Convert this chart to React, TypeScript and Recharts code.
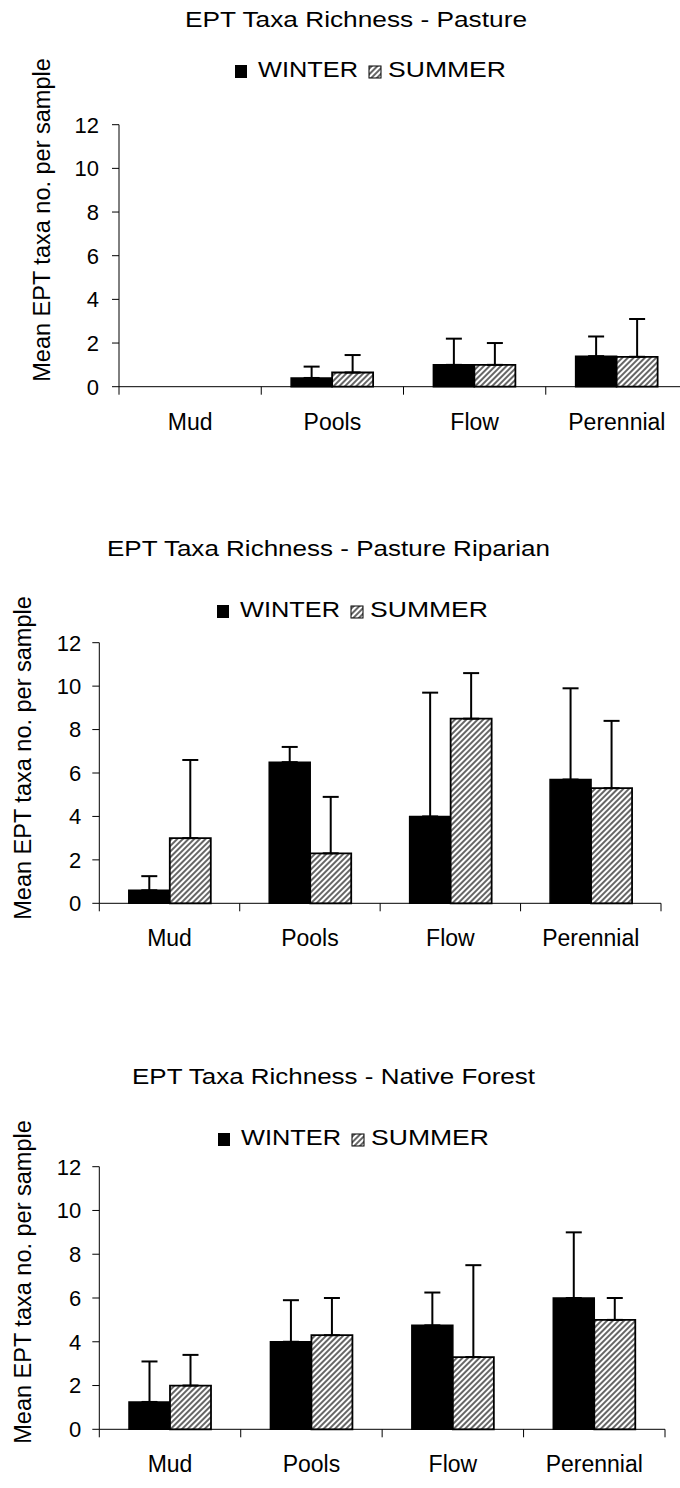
import React from "react";
import { BarChart, Bar, XAxis, YAxis, ErrorBar } from "recharts";

const categories = ["Mud", "Pools", "Flow", "Perennial"];
const yTicks = [0, 2, 4, 6, 8, 10, 12];
const yLabel = "Mean EPT taxa no. per sample";

// means and upper error (SD) per season
const pastureWinter = [0, 0.4, 1.0, 1.4];
const pastureWinterErr = [0, 0.52, 1.2, 0.9];
const pastureSummer = [0, 0.65, 1.0, 1.37];
const pastureSummerErr = [0, 0.8, 1.0, 1.73];

const riparianWinter = [0.6, 6.5, 4.0, 5.7];
const riparianWinterErr = [0.65, 0.7, 5.7, 4.2];
const riparianSummer = [3.0, 2.3, 8.5, 5.3];
const riparianSummerErr = [3.6, 2.6, 2.1, 3.1];

const forestWinter = [1.25, 4.0, 4.75, 6.0];
const forestWinterErr = [1.85, 1.9, 1.5, 3.0];
const forestSummer = [2.0, 4.3, 3.3, 5.0];
const forestSummerErr = [1.4, 1.7, 4.2, 1.0];

const FONT = '"Liberation Sans", Arial, Helvetica, sans-serif';

function rows(w: number[], we: number[], s: number[], se: number[]) {
  return categories.map((name, i) => ({
    name,
    winter: w[i],
    winterErr: [0, we[i]],
    summer: s[i],
    summerErr: [0, se[i]],
  }));
}

const panels = [
  {
    title: "EPT Taxa Richness - Pasture",
    data: rows(pastureWinter, pastureWinterErr, pastureSummer, pastureSummerErr),
    top: 0, height: 470,
    plotLeft: 119, plotRight: 688, plotTop: 124.7, plotBottom: 386.7,
    titleX: 356, titleY: 27, titleLen: 342,
    legendX: 235, legendY: 77,
    ylabX: 50, ylabY: 220, tickGap: 13,
  },
  {
    title: "EPT Taxa Richness - Pasture Riparian",
    data: rows(riparianWinter, riparianWinterErr, riparianSummer, riparianSummerErr),
    top: 500, height: 490,
    plotLeft: 99.3, plotRight: 661, plotTop: 642.7, plotBottom: 903.3,
    titleX: 328.5, titleY: 556, titleLen: 443,
    legendX: 217, legendY: 617,
    ylabX: 31, ylabY: 758, tickGap: 11,
  },
  {
    title: "EPT Taxa Richness - Native Forest",
    data: rows(forestWinter, forestWinterErr, forestSummer, forestSummerErr),
    top: 1010, height: 478,
    plotLeft: 99.3, plotRight: 665, plotTop: 1166.7, plotBottom: 1429.3,
    titleX: 333.5, titleY: 1084, titleLen: 403,
    legendX: 218, legendY: 1145,
    ylabX: 31, ylabY: 1282, tickGap: 11,
  },
];

type PanelCfg = (typeof panels)[number];

function Panel({ cfg }: { cfg: PanelCfg }) {
  const { top, height, plotLeft, plotRight, plotTop, plotBottom } = cfg;
  const width = Math.ceil(plotRight) + 20;
  const xAxisH = 50;
  const axisY = plotBottom - top;
  const band = (plotRight - plotLeft) / categories.length;

  const xTick = (p: any) => {
    const { x, index, payload } = p;
    const last = index === categories.length - 1;
    return (
      <g>
        <line x1={x - band / 2} x2={x - band / 2} y1={axisY} y2={axisY + 8} stroke="#000" />
        {last && <line x1={x + band / 2} x2={x + band / 2} y1={axisY} y2={axisY + 8} stroke="#000" />}
        <text x={x} y={axisY + 43} textAnchor="middle" fontSize={23} fill="#000" fontFamily={FONT}>
          {payload.value}
        </text>
      </g>
    );
  };

  return (
    <div style={{ position: "absolute", left: 0, top, width, height }}>
      <BarChart
        width={width}
        height={height}
        data={cfg.data}
        margin={{ top: plotTop - top, right: width - plotRight, left: 0, bottom: height - axisY - xAxisH }}
        barGap={0}
        barCategoryGap="21%"
      >
        <YAxis
          type="number"
          domain={[0, 12]}
          ticks={yTicks}
          width={plotLeft}
          axisLine={{ stroke: "#000" }}
          tickLine={{ stroke: "#000" }}
          tickSize={7}
          tickMargin={cfg.tickGap}
          tick={{ fontSize: 22, fill: "#000", fontFamily: FONT }}
        />
        <XAxis
          dataKey="name"
          height={xAxisH}
          interval={0}
          tickLine={false}
          axisLine={{ stroke: "#000" }}
          tick={xTick}
        />
        <Bar dataKey="winter" fill="#000" stroke="#000" strokeWidth={1.5} isAnimationActive={false}>
          <ErrorBar dataKey="winterErr" direction="y" width={8} stroke="#000" strokeWidth={2} />
        </Bar>
        <Bar dataKey="summer" fill="url(#hatch)" stroke="#000" strokeWidth={1.8} isAnimationActive={false}>
          <ErrorBar dataKey="summerErr" direction="y" width={8} stroke="#000" strokeWidth={2} />
        </Bar>
      </BarChart>
      <svg
        width={680}
        height={height}
        style={{ position: "absolute", left: 0, top: 0, pointerEvents: "none" }}
        fontFamily={FONT}
      >
        <text
          x={cfg.titleX}
          y={cfg.titleY - top}
          textAnchor="middle"
          fontSize={22}
          textLength={cfg.titleLen}
          lengthAdjust="spacingAndGlyphs"
        >
          {cfg.title}
        </text>
        <g transform={`translate(${cfg.legendX}, ${cfg.legendY - top})`}>
          <rect x={0} y={-12} width={12} height={13} fill="#000" />
          <text x={23} y={0} fontSize={22} textLength={100} lengthAdjust="spacingAndGlyphs">
            WINTER
          </text>
          <rect x={134} y={-11} width={12} height={12} fill="url(#hatch)" stroke="#000" strokeWidth={1} />
          <text x={153} y={0} fontSize={22} textLength={118} lengthAdjust="spacingAndGlyphs">
            SUMMER
          </text>
        </g>
        <text
          transform={`translate(${cfg.ylabX}, ${cfg.ylabY - top}) rotate(-90)`}
          textAnchor="middle"
          fontSize={23.5}
        >
          {yLabel}
        </text>
      </svg>
    </div>
  );
}

export default function App() {
  return (
    <div
      style={{
        position: "relative",
        width: 680,
        height: 1488,
        overflow: "hidden",
        background: "#fff",
        fontFamily: FONT,
      }}
    >
      <style>{"body{margin:0}"}</style>
      <svg width={0} height={0} style={{ position: "absolute" }}>
        <defs>
          <pattern id="hatch" patternUnits="userSpaceOnUse" width={4} height={4} patternTransform="rotate(45)">
            <rect width={4} height={4} fill="#fff" />
            <line x1={1} y1={0} x2={1} y2={4} stroke="#333" strokeWidth={1.5} />
          </pattern>
        </defs>
      </svg>
      {panels.map((cfg) => (
        <Panel key={cfg.title} cfg={cfg} />
      ))}
    </div>
  );
}
